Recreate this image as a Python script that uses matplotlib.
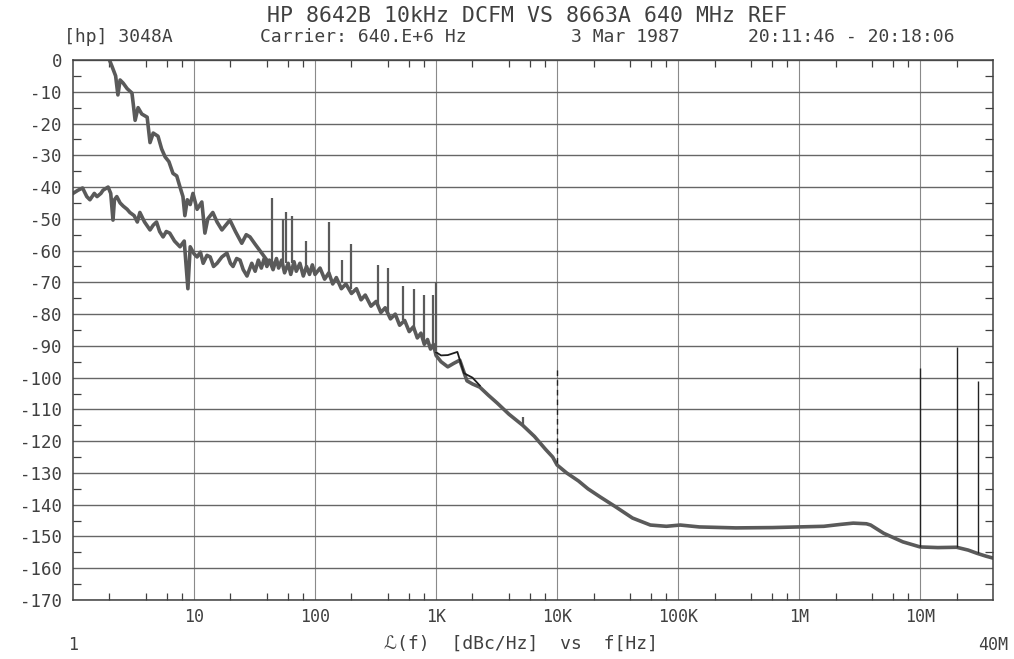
import matplotlib
matplotlib.use("Agg")
import matplotlib.pyplot as plt
import numpy as np

# lower trace, runs over the whole span (Hz, dBc/Hz)
freq_b = [1.0, 1.1, 1.2, 1.3, 1.38, 1.5, 1.58, 1.7, 1.77, 1.95, 2.05, 2.14, 2.2, 2.3,
          2.45, 2.6, 2.8, 2.95, 3.2, 3.4, 3.57, 3.9, 4.33, 4.6, 4.9, 5.2, 5.55, 5.9,
          6.3, 6.9, 7.66, 8.3, 8.9, 9.3, 10.0, 10.6, 11.3, 11.9, 12.8, 13.6, 14.5,
          15.5, 17, 18.7, 20, 21, 22.5, 24, 25.5, 27.4, 30, 32, 34, 36, 38, 40, 42,
          45, 48, 50, 53, 56, 60, 63, 67, 70, 75, 80, 85, 90, 95, 100, 110, 120, 130,
          140, 150, 165, 180, 200, 220, 240, 260, 290, 320, 350, 380, 420, 460, 500,
          550, 600, 650, 700, 750, 800, 850, 900, 950, 1000, 1100, 1250, 1400, 1570,
          1800, 2000, 2300, 2700, 3200, 4000, 5200, 6500, 8000, 9200, 10e3, 12e3,
          15e3, 18e3, 22.8e3, 30e3, 42e3, 59e3, 80e3, 104e3, 150e3, 300e3, 600e3,
          1e6, 1.6e6, 2.2e6, 2.8e6, 3.6e6, 3.9e6, 5e6, 7.2e6, 10e6, 14e6, 20e6,
          25e6, 29.5e6, 35e6, 40e6]
level_b = [-42, -41, -40.3, -43, -44, -42, -43, -42, -41, -40, -42, -50.4, -44, -43,
           -45, -46, -47, -48, -49, -51, -48, -51, -53.5, -52, -51, -54, -55.7, -54,
           -54.5, -57, -58.8, -57, -72, -58.8, -61, -62, -60.5, -64, -61.5, -62, -65,
           -64, -62, -60.8, -64, -65, -62.5, -63, -66, -68, -64, -66.5, -63, -65.5,
           -62.5, -65, -63, -66, -62.5, -65.5, -63, -67, -64, -67.5, -63.5, -66.5, -64,
           -68, -65, -67.5, -64.5, -67.5, -65.5, -69, -67, -70.5, -68.5, -72, -70.5,
           -73.5, -72, -75.5, -74, -77.5, -76, -79.5, -78, -81.5, -80, -83.5, -82,
           -85.5, -84, -87.5, -86, -89.5, -88, -91, -89.5, -93, -95, -96.6, -95.5,
           -94.5, -101, -102, -103, -105.5, -108, -111.5, -115, -118.5, -122.5, -125,
           -127.5, -130, -132.5, -135, -137.6, -140.5, -144.2, -146.4, -146.8,
           -146.4, -147, -147.3, -147.2, -147, -146.8, -146.2, -145.8, -146, -146.4,
           -149, -151.7, -153.3, -153.5, -153.4, -154.3, -155.3, -156.2, -156.8]

# steep trace at low offsets
freq_a = [2.0, 2.1, 2.25, 2.35, 2.45, 2.6, 2.8, 3.07, 3.15, 3.26, 3.45, 3.7, 4.1, 4.33,
          4.6, 5.04, 5.4, 5.77, 6.2, 6.7, 7.2, 7.66, 8.1, 8.4, 8.8, 9.3, 9.8, 10.6,
          11.6, 12.3, 13, 14.3, 15.5, 17, 19.8, 22, 24.8, 27, 29, 32, 35, 40, 45]
level_a = [0, -2, -5, -11, -6.3, -7.3, -9, -10.4, -14, -19, -15, -17, -18, -26,
           -23, -24, -28, -30.5, -32, -35.7, -36.5, -40, -43, -49, -44, -45.5, -42, -47,
           -44.7, -54.5, -50, -48, -51, -53.5, -50.4, -54, -57.7, -55, -55.7, -58, -60,
           -63, -64]

# same trace again just above 1 kHz, where it splits from the other one
freq_a_hi = [1000, 1100, 1250, 1500, 1700, 2000, 2300]
level_a_hi = [-92, -93, -92.9, -91.9, -98.6, -100, -102.5]

# discrete spurs: frequency, floor, peak
spur_f = [44, 54, 58, 65, 84, 130, 167, 200, 330, 400, 530, 660, 800, 940, 1000, 5200]
spur_lo = [-64, -65, -64, -64, -66, -67, -70, -72, -77, -80, -82, -85, -88, -89, -92, -115]
spur_hi = [-43.5, -50, -48, -49, -57, -51, -63, -58, -64.5, -65.5, -71, -72, -74, -74, -70, -112.5]
rf_spur_f = [10e6, 20e6, 30e6]
rf_spur_lo = [-153.3, -153.4, -155.3]
rf_spur_hi = [-97, -90.4, -101]

decades = [10, 100, 1e3, 1e4, 1e5, 1e6, 1e7]
decade_labels = ["10", "100", "1K", "10K", "100K", "1M", "10M"]
db_ticks = list(range(-170, 1, 10))

ink = "#404040"
trace = "#5a5a5a"
mono = ["DejaVu Sans Mono", "DejaVu Sans"]

fig = plt.figure(figsize=(10.14, 6.59), dpi=100)
ax = fig.add_axes([73 / 1014, 1 - 600 / 659, 920 / 1014, 540 / 659])
ax.set_xscale("log")
ax.set_xlim(1, 40e6)
ax.set_ylim(-170, 0)

ax.plot(freq_b, level_b, color=trace, lw=2.6, solid_joinstyle="round")
ax.plot(freq_a, level_a, color=trace, lw=2.6, solid_joinstyle="round")
ax.plot(freq_a_hi, level_a_hi, color="#1e1e1e", lw=1.3)
ax.vlines(spur_f, spur_lo, spur_hi, colors=trace, lw=1.6)
ax.vlines(rf_spur_f, rf_spur_lo, rf_spur_hi, colors="#222222", lw=1.0)
ax.vlines([10e3], -127, -97.3, colors="#222222", lw=1.0, linestyles=(0, (4, 3)))

# grid and ticks like the plotter output
ax.set_xticks(decades)
ax.set_xticklabels([])
minor_x = [m * d for d in [1, 10, 100, 1e3, 1e4, 1e5, 1e6, 1e7] for m in (2, 4, 6, 8)]
ax.set_xticks([v for v in minor_x if v < 40e6], minor=True)
ax.set_yticks(db_ticks)
ax.set_yticklabels([str(v) for v in db_ticks], family=mono, fontsize=12.5, color=ink)
ax.set_yticks(list(range(-165, 0, 10)), minor=True)
ax.tick_params(which="major", length=0, pad=8)
ax.tick_params(axis="x", which="minor", direction="in", length=5, width=0.9,
               top=True, bottom=True, color=ink)
ax.tick_params(axis="y", which="minor", direction="in", length=6, width=0.9,
               left=True, right=True, color=ink)
ax.xaxis.grid(True, which="major", color="#8a8a8a", lw=0.8)
ax.yaxis.grid(True, which="major", color="#666666", lw=1.0)
ax.set_axisbelow(True)
for s in ax.spines.values():
    s.set_color(ink)
    s.set_linewidth(1.1)

xt = ax.get_xaxis_transform()
for d, lab in zip(decades, decade_labels):
    ax.text(d, -0.032, lab, transform=xt, ha="center", va="center",
            family=mono, fontsize=12, color=ink)
ax.text(1, -0.084, "1", transform=xt, ha="center", va="center",
        family=mono, fontsize=12, color=ink)
ax.text(40e6, -0.084, "40M", transform=xt, ha="center", va="center",
        family=mono, fontsize=12, color=ink)

fig.text(521 / 1014, 1 - 644 / 659, "ℒ(f)  [dBc/Hz]  vs  f[Hz]", ha="center",
         va="center", family=mono, fontsize=13, color=ink)

fig.text(527 / 1014, 1 - 16 / 659, "HP 8642B 10kHz DCFM VS 8663A 640 MHz REF",
         ha="center", va="center", family=mono, fontsize=15.5, color=ink)
header = [("[hp] 3048A", 118), ("Carrier: 640.E+6 Hz", 363),
          ("3 Mar 1987", 625), ("20:11:46 - 20:18:06", 851)]
for txt, xc in header:
    fig.text(xc / 1014, 1 - 37 / 659, txt, ha="center", va="center",
             family=mono, fontsize=13, color=ink)

fig.savefig("out.png", dpi=100, facecolor="white")
